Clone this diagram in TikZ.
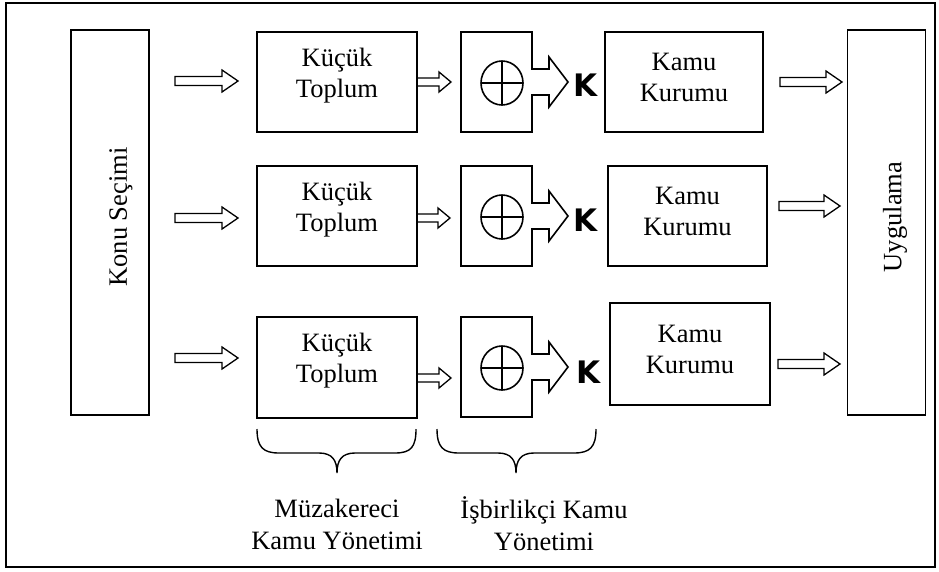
\documentclass[tikz,border=0pt]{standalone}
\usepackage{fontspec}
\setmainfont{Liberation Serif}
\newfontfamily\kfont{DejaVu Sans}
\usetikzlibrary{calc}
\tikzset{
  ln/.style={draw=black, line width=1.6pt},
  blk/.style={draw=black, line width=1.3pt, line join=miter},
  box/.style={ln, rectangle, inner sep=0pt},
  lbl/.style={font=\fontsize{26.5}{31}\selectfont, align=center, inner sep=0pt},
  kl/.style={font=\kfont\bfseries\fontsize{31}{34}\selectfont, inner sep=0pt},
}
% block arrow between two named coordinates on the same row
\newcommand\barrow[5]{%
  \draw[blk] let \p1=(#1), \p2=(#2) in
    (\x1,\y1+#3pt) -- (\x2-#5pt,\y1+#3pt) -- (\x2-#5pt,\y1+#4pt) -- (\x2,\y1)
    -- (\x2-#5pt,\y1-#4pt) -- (\x2-#5pt,\y1-#3pt) -- (\x1,\y1-#3pt) -- cycle;}
% operator box with arrow; #1 name, #2 top y
\newcommand\opshape[2]{%
  \draw[ln, line join=miter] (461,#2) -- (532,#2) -- (532,#2+37) -- (549,#2+37) -- (549,#2+25)
    -- (568,#2+50) -- (549,#2+75) -- (549,#2+63) -- (532,#2+63) -- (532,#2+100)
    -- (461,#2+100) -- cycle;
  \coordinate (#1) at (502,#2+51);
  \draw[ln] (#1) ellipse [x radius=21pt, y radius=22pt];
  \draw[ln] ($(#1)+(-21,0)$) -- ($(#1)+(21,0)$);
  \draw[ln] ($(#1)+(0,-22)$) -- ($(#1)+(0,22)$);}
\begin{document}
\begin{tikzpicture}[x=1pt, y=-1pt]
\useasboundingbox (0,0) rectangle (939,571);
\draw[line width=1.8pt] (6,3) rectangle (935,567);

% side boxes
\node[box, minimum width=78pt, minimum height=385pt] (konu) at (110,222.5) {};
\node[lbl, rotate=90] (konut) at (121,217) {Konu Seçimi};
\node[box, minimum width=78pt, minimum height=385pt] (uyg) at (886.5,222.5) {};
\node[lbl, rotate=90] (uygt) at (895,217) {Uygulama};

% Küçük Toplum boxes
\node[box, minimum width=160pt, minimum height=100pt] (k1) at (337,82) {};
\node[lbl] (k1t) at (337,76) {Küçük\\Toplum};
\node[box, minimum width=160pt, minimum height=100pt] (k2) at (337,216) {};
\node[lbl] (k2t) at (337,210) {Küçük\\Toplum};
\node[box, minimum width=160pt, minimum height=101pt] (k3) at (337,367.5) {};
\node[lbl] (k3t) at (337,361) {Küçük\\Toplum};

% operator shapes
\opshape{o1}{32}
\opshape{o2}{166}
\opshape{o3}{317}

% K letters
\node[kl] (kk1) at (586,85) {K};
\node[kl] (kk2) at (586,220) {K};
\node[kl] (kk3) at (589,372) {K};

% Kamu Kurumu boxes
\node[box, minimum width=158pt, minimum height=100pt] (m1) at (684,82) {};
\node[lbl] (m1t) at (684,77) {Kamu\\Kurumu};
\node[box, minimum width=159pt, minimum height=100pt] (m2) at (687.5,216) {};
\node[lbl] (m2t) at (687.5,211) {Kamu\\Kurumu};
\node[box, minimum width=160pt, minimum height=102pt] (m3) at (690,354) {};
\node[lbl] (m3t) at (690,349) {Kamu\\Kurumu};

% arrow end points
\coordinate (a1s) at (175,81);  \coordinate (a1e) at (238,81);
\coordinate (a2s) at (175,218); \coordinate (a2e) at (238,218);
\coordinate (a3s) at (175,358); \coordinate (a3e) at (238,358);
\coordinate (b1s) at (417,82);  \coordinate (b1e) at (451,82);
\coordinate (b2s) at (417,218); \coordinate (b2e) at (450,218);
\coordinate (b3s) at (417,378); \coordinate (b3e) at (451,378);
\coordinate (c1s) at (780,82);  \coordinate (c1e) at (842,82);
\coordinate (c2s) at (779,206); \coordinate (c2e) at (840,206);
\coordinate (c3s) at (778,364); \coordinate (c3e) at (840,364);

\barrow{a1s}{a1e}{4.5}{11}{16}
\barrow{a2s}{a2e}{4.5}{11}{16}
\barrow{a3s}{a3e}{4.5}{11}{16}
\barrow{b1s}{b1e}{4}{10}{12}
\barrow{b2s}{b2e}{4}{10}{12}
\barrow{b3s}{b3e}{4}{10}{12}
\barrow{c1s}{c1e}{4.5}{11}{16}
\barrow{c2s}{c2e}{4.5}{11}{16}
\barrow{c3s}{c3e}{4.5}{11}{16}

% braces
\draw[line width=1.4pt] (257,429) .. controls (257,447) and (263,453) .. (279,453) -- (319,453)
  .. controls (332,453) and (337,460) .. (337,473)
  .. controls (337,460) and (342,453) .. (355,453) -- (395,453)
  .. controls (411,453) and (416,447) .. (416,429);
\draw[line width=1.4pt] (437,429) .. controls (437,447) and (443,453) .. (459,453) -- (498,453)
  .. controls (511,453) and (516,460) .. (516,473)
  .. controls (516,460) and (521,453) .. (534,453) -- (574,453)
  .. controls (590,453) and (596,447) .. (596,429);

% bottom labels
\node[lbl, font=\fontsize{26.5}{32}\selectfont] (g1) at (337,524) {Müzakereci\\Kamu Yönetimi};
\node[lbl, font=\fontsize{26.5}{32}\selectfont] (g2) at (544,524) {İşbirlikçi Kamu\\Yönetimi};
\end{tikzpicture}
\end{document}
